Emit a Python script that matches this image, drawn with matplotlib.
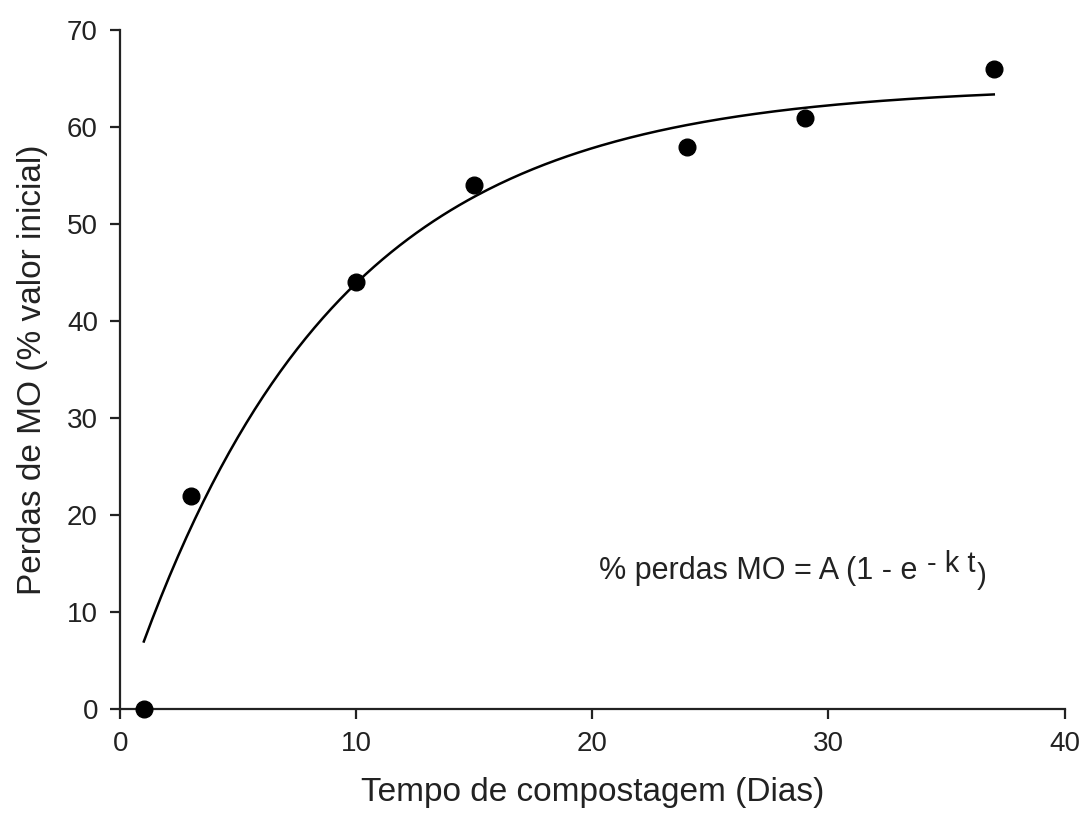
import numpy as np
import matplotlib.pyplot as plt
from matplotlib.transforms import offset_copy

plt.rcParams['font.family'] = ['Liberation Sans', 'DejaVu Sans']

# observed points
dias = [1, 3, 10, 15, 24, 29, 37]
perdas = [0, 22, 44, 54, 58, 61, 66]

# fitted model % perdas = A (1 - e^(-k t))
A = 64.3
k = 0.115
t_ini, t_fim = 1, 37

fig = plt.figure(figsize=(10.83, 8.19), dpi=100)
ax = fig.add_axes([0.111, 0.134, 0.872, 0.829])

t = np.linspace(t_ini, t_fim, 300)
ax.plot(t, A * (1 - np.exp(-k * t)), color='black', lw=1.8)
ax.plot(dias, perdas, 'o', color='black', ms=12, clip_on=False, zorder=3)

ax.set_xlim(0, 40)
ax.set_ylim(0, 70)
ax.set_xticks([0, 10, 20, 30, 40])
ax.set_yticks(range(0, 71, 10))
ax.spines['top'].set_visible(False)
ax.spines['right'].set_visible(False)
for s in ['left', 'bottom']:
    ax.spines[s].set_linewidth(1.6)
    ax.spines[s].set_color('#222222')
ax.tick_params(direction='out', length=7, width=1.6, labelsize=20, pad=9,
               color='#222222', labelcolor='#222222')

ax.set_xlabel('Tempo de compostagem (Dias)', fontsize=24, labelpad=14, color='#222222')
ax.set_ylabel('Perdas de MO (% valor inicial)', fontsize=24, labelpad=14, color='#222222')

# equation, superscript placed after the main text
t1 = ax.text(20.3, 13.4, '% perdas MO = A (1 - e', fontsize=22, va='baseline', ha='left',
             color='#222222')
fig.canvas.draw()
bb = t1.get_window_extent()
x1, _ = ax.transData.inverted().transform((bb.x1, bb.y0))
t2 = ax.text(x1, 13.4, '- k t', fontsize=21, va='baseline', ha='left', color='#222222',
             transform=offset_copy(ax.transData, fig=fig, x=9, y=7, units='dots'))
fig.canvas.draw()
bb2 = t2.get_window_extent()
x2, _ = ax.transData.inverted().transform((bb2.x1, bb2.y0))
ax.text(x2, 13.4, ')', fontsize=21, va='baseline', ha='left', color='#222222',
        transform=offset_copy(ax.transData, fig=fig, x=1, y=-5, units='dots'))

fig.savefig('out.png', dpi=100)
